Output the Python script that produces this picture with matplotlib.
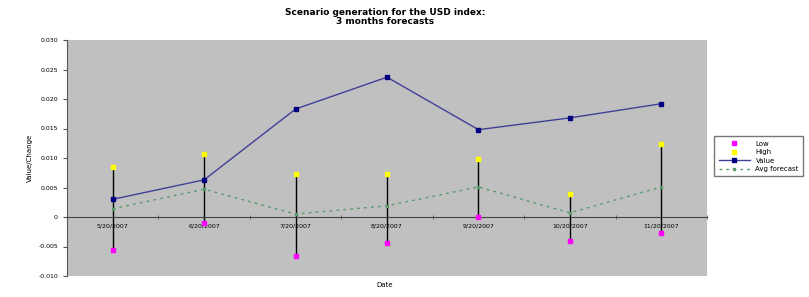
import numpy as np
import matplotlib.pyplot as plt

# data
dates = ['5/20/2007', '6/20/2007', '7/20/2007', '8/20/2007',
         '9/20/2007', '10/20/2007', '11/20/2007']
low = [-0.0056, -0.0010, -0.0066, -0.0044, 0.0000, -0.0041, -0.0027]
high = [0.0085, 0.0107, 0.0073, 0.0073, 0.0098, 0.0039, 0.0124]
value = [0.0030, 0.0063, 0.0183, 0.0237, 0.0148, 0.0168, 0.0192]
avg_forecast = [0.0014, 0.0047, 0.0005, 0.0019, 0.0051, 0.0007, 0.0051]
yticks = [-0.01, -0.005, 0, 0.005, 0.01, 0.015, 0.02, 0.025, 0.03]
ytick_labels = ['-0.010', '-0.005', '0', '0.005', '0.010', '0.015',
                '0.020', '0.025', '0.030']

x = np.arange(len(dates))

fig = plt.figure(figsize=(8.09, 2.97), dpi=100)
ax = fig.add_axes([67 / 809, 21 / 297, 640 / 809, 236 / 297])
ax.set_facecolor('#c0c0c0')

# high-low lines
ax.vlines(x, low, high, color='black', lw=1, zorder=2)
ax.plot(x, low, ls='none', marker='s', ms=2.5, color='#ff00ff', label='Low', zorder=4)
ax.plot(x, high, ls='none', marker='s', ms=2.5, color='#ffff00', label='High', zorder=4)
ax.plot(x, value, color='#404098', lw=1, marker='s', ms=2.5, mfc='#000080',
        mec='#000080', label='Value', zorder=3)
ax.plot(x, avg_forecast, color='#5a9a6a', lw=1, ls=(0, (2, 3)), marker='s', ms=1.5,
        label='Avg forecast', zorder=3)

ax.set_xlim(-0.5, len(dates) - 0.5)
ax.set_ylim(-0.01, 0.03)
ax.set_yticks(yticks)
ax.set_yticklabels(ytick_labels, fontsize=4.5)

# category axis crossing at zero
ax.spines['bottom'].set_position(('data', 0))
ax.set_xticks(x)
ax.set_xticklabels(dates, fontsize=4.5)
ax.tick_params(axis='x', length=0, pad=5)
ax.set_xticks(np.arange(len(dates) + 1) - 0.5, minor=True)
ax.tick_params(axis='x', which='minor', length=3, direction='inout', color='#555555')
ax.tick_params(axis='y', length=3, color='#555555')
for s in ['top', 'right']:
    ax.spines[s].set_visible(False)
ax.spines['left'].set_color('#555555')
ax.spines['bottom'].set_color('#444444')

ax.set_ylabel('Value/Change', fontsize=5)
fig.text(385 / 809, 1 - 285 / 297, 'Date', fontsize=5, ha='center', va='center')
fig.text(385 / 809, 1 - 17 / 297,
         'Scenario generation for the USD index:\n3 months forecasts',
         fontsize=6.5, fontweight='bold', ha='center', va='center', linespacing=1.0)

fig.legend(loc='upper left', bbox_to_anchor=(711 / 809, 1 - 133 / 297),
           fontsize=5, frameon=True, fancybox=False, edgecolor='#555555',
           borderpad=0.6, handlelength=4.5, labelspacing=0.35)

fig.savefig('out.png', dpi=100)
